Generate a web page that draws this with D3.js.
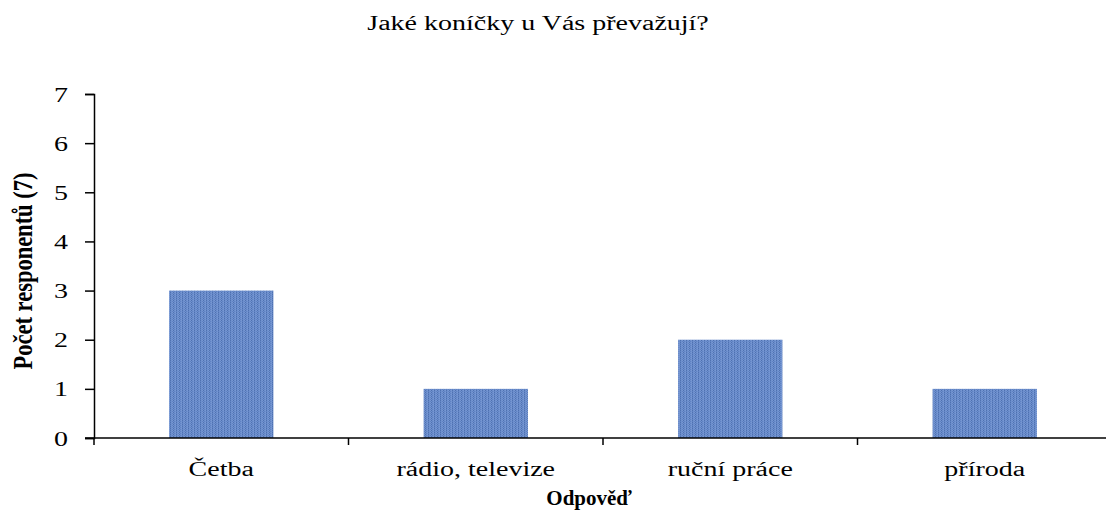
<!DOCTYPE html>
<html>
<head>
<meta charset="utf-8">
<script src="https://cdn.jsdelivr.net/npm/d3@7"></script>
<style>
  html, body { margin: 0; padding: 0; background: #fff; }
  svg { display: block; }
  text { font-family: "Liberation Serif", "Times New Roman", serif; fill: #000; }
</style>
</head>
<body>
<svg id="chart" width="1106" height="511"></svg>
<script>
// Hobby survey: number of respondents per answer
const categories = ["Četba", "rádio, televize", "ruční práce", "příroda"];
const values = [3, 1, 2, 1];
const yTicks = [0, 1, 2, 3, 4, 5, 6, 7];
const title = "Jaké koníčky u Vás převažují?";
const xTitle = "Odpověď";
const yTitle = "Počet responentů (7)";

const W = 1106, H = 511;
const plot = { left: 94, right: 1112, top: 94, bottom: 438 };
const stretch = 1.4;   // wide letterforms
const fs = 20;

const svg = d3.select("#chart");

// textured blue fill for the bars
const defs = svg.append("defs");
const pat = defs.append("pattern")
  .attr("id", "weave").attr("patternUnits", "userSpaceOnUse")
  .attr("width", 6).attr("height", 4);
const shades = ["#6e90ce", "#5577b8", "#7898d3", "#5f82c2", "#4e71b1", "#6a8dcb"];
pat.append("rect").attr("width", 6).attr("height", 4).attr("fill", "#6387c5");
for (let r = 0; r < 4; r++) {
  for (let c = 0; c < 6; c++) {
    pat.append("rect").attr("x", c).attr("y", r).attr("width", 1).attr("height", 1)
      .attr("fill", shades[(c * 2 + r * 3 + (r % 2 ? c : 0)) % shades.length]);
  }
}

const x = d3.scaleBand()
  .domain(categories)
  .range([plot.left, plot.right])
  .paddingInner(0.59)
  .paddingOuter(0.295);

const y = d3.scaleLinear().domain([0, 7]).range([plot.bottom, plot.top]);

// bars
svg.append("g").selectAll("rect")
  .data(categories)
  .join("rect")
  .attr("x", d => x(d))
  .attr("width", x.bandwidth())
  .attr("y", (d, i) => y(values[i]))
  .attr("height", (d, i) => y(0) - y(values[i]))
  .attr("fill", "url(#weave)");

// y axis
const yAxis = svg.append("g")
  .attr("transform", `translate(${plot.left},0)`)
  .call(d3.axisLeft(y).tickValues(yTicks).tickSize(9).tickFormat(d3.format("d")));
yAxis.select(".domain").attr("stroke", "#000").attr("stroke-width", 1.5);
yAxis.selectAll(".tick line").attr("stroke", "#000").attr("stroke-width", 1.5);
yAxis.selectAll(".tick text")
  .attr("x", null).attr("dy", null)
  .attr("transform", "translate(-26,7) scale(" + stretch + ",1)")
  .attr("text-anchor", "end")
  .style("font-family", "'Liberation Serif', serif")
  .style("font-size", fs + "px")
  .attr("fill", "#000");

// x axis line with ticks at category boundaries
const step = x.step();
const bounds = d3.range(categories.length + 1).map(i => plot.left + i * step);
const xg = svg.append("g");
xg.append("line")
  .attr("x1", plot.left - 9).attr("x2", plot.right + 10)
  .attr("y1", y(0)).attr("y2", y(0))
  .attr("stroke", "#000").attr("stroke-width", 1.5);
xg.selectAll("line.tk")
  .data(bounds)
  .join("line").attr("class", "tk")
  .attr("x1", d => d).attr("x2", d => d)
  .attr("y1", y(0)).attr("y2", y(0) + 7)
  .attr("stroke", "#000").attr("stroke-width", 1.5);

// category labels
xg.selectAll("text.cat")
  .data(categories)
  .join("text").attr("class", "cat")
  .attr("transform", d => `translate(${x(d) + x.bandwidth() / 2},476) scale(${stretch},1)`)
  .attr("text-anchor", "middle")
  .style("font-size", fs + "px")
  .text(d => d);

// titles
svg.append("text")
  .attr("transform", `translate(538,30) scale(${stretch},1)`)
  .attr("text-anchor", "middle")
  .style("font-size", fs + "px")
  .text(title);

svg.append("text")
  .attr("transform", `translate(589,505) scale(1.05,1)`)
  .attr("text-anchor", "middle")
  .style("font-size", fs + "px")
  .style("font-weight", "bold")
  .text(xTitle);

svg.append("text")
  .attr("transform", `translate(32,271) rotate(-90) scale(1,1.22)`)
  .attr("text-anchor", "middle")
  .style("font-size", "22.5px")
  .style("font-weight", "bold")
  .text(yTitle);
</script>
</body>
</html>
